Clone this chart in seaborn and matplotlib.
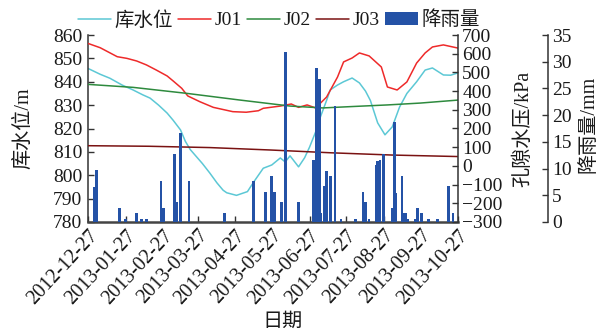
import numpy as np
import pandas as pd
import matplotlib
matplotlib.use("Agg")
import matplotlib.pyplot as plt
import seaborn as sns
from matplotlib.lines import Line2D
from matplotlib.patches import Patch

sns.set_theme(style="white")
plt.rcParams['font.family'] = ['Liberation Serif', 'Noto Sans CJK SC', 'DejaVu Sans']
plt.rcParams['axes.unicode_minus'] = True

start_date = "2012-12-27"
tick_dates = ["2012-12-27", "2013-01-27", "2013-02-27", "2013-03-27", "2013-04-27",
              "2013-05-27", "2013-06-27", "2013-07-27", "2013-08-27", "2013-09-27",
              "2013-10-27"]

# reservoir level (m), days since 2012-12-27
level_days = [0, 10, 18, 28, 37, 45, 51, 58, 65, 70, 76, 80, 84, 94, 100, 106, 111, 114,
              122, 131, 136, 144, 151, 158, 162, 166, 173, 178, 182, 187, 191, 196, 199,
              205, 210, 217, 223, 228, 232, 238, 244, 250, 256, 262, 270, 277, 283, 292,
              298, 304]
level_vals = [845.7, 843.2, 841.5, 838.6, 836.5, 834.4, 833.0, 830.0, 826.6, 823.5, 819.4,
              814.5, 811.0, 805.0, 801.0, 796.7, 793.6, 792.5, 791.4, 793.0, 797.0, 803.0,
              804.4, 807.4, 805.7, 808.3, 803.6, 807.5, 812.0, 818.5, 825.0, 832.0, 836.5,
              838.6, 840.0, 841.6, 839.5, 836.0, 832.0, 822.4, 817.3, 820.7, 829.2, 835.0,
              840.0, 845.0, 845.9, 842.9, 842.8, 843.8]

# pore pressure J01 (kPa)
j01_days = [0, 10, 24, 32, 40, 48, 56, 65, 70, 77, 82, 92, 103, 119, 130, 140, 144, 158,
            167, 173, 180, 187, 196, 205, 210, 217, 223, 231, 241, 246, 254, 262, 270,
            277, 283, 292, 304]
j01_vals = [655, 632, 584, 575, 561, 540, 513, 481, 454, 415, 374, 343, 313, 290, 287, 295,
            308, 320, 331, 313, 326, 310, 368, 475, 556, 577, 604, 588, 529, 422, 406, 449,
            550, 604, 636, 647, 630]

# pore pressure J02 (kPa)
j02_days = [0, 37, 81, 125, 166, 193, 219, 246, 273, 304]
j02_vals = [436, 420, 388, 352, 320, 310, 318, 326, 336, 352]

# pore pressure J03 (kPa)
j03_days = [0, 50, 100, 150, 200, 250, 304]
j03_vals = [108, 105, 98, 85, 70, 58, 50]

# rainfall (mm)
rain_days = [5, 7, 26, 31, 40, 44, 48, 60, 62, 71, 73, 76, 83, 112, 136, 146, 151, 153,
             159, 162, 173, 185, 186, 188, 190, 191, 194, 196, 199, 203, 208, 220, 226,
             228, 231, 237, 238, 240, 243, 250, 252, 253, 258, 260, 261, 263, 269, 271,
             274, 280, 287, 296, 300]
rain_vals = [6.6, 9.7, 2.6, 0.6, 1.6, 0.6, 0.6, 7.7, 2.6, 12.7, 3.7, 16.7, 7.7, 1.6, 7.7,
             5.6, 8.6, 5.6, 3.7, 31.8, 3.7, 11.6, 6.6, 28.8, 26.7, 1.6, 6.7, 9.6, 8.6, 21.7,
             0.6, 0.6, 5.6, 3.7, 0.6, 10.7, 11.5, 11.6, 12.7, 2.6, 18.8, 5.5, 8.6, 1.6, 1.6,
             0.5, 0.5, 2.6, 1.6, 0.5, 0.5, 6.7, 1.6]

c_level = "#5cc8d5"
c_j01 = "#ee2a2a"
c_j02 = "#2e8a3e"
c_j03 = "#7a1212"
c_rain = "#2452a6"

W, H = 603, 333
fig = plt.figure(figsize=(W / 100, H / 100), dpi=100)
ax = fig.add_axes([88 / W, 1 - 222 / H, 370 / W, 187 / H])
ax2 = ax.twinx()
ax3 = ax.twinx()

sns.lineplot(x=level_days, y=level_vals, ax=ax, color=c_level, lw=1.1)
sns.lineplot(x=j01_days, y=j01_vals, ax=ax2, color=c_j01, lw=1.1)
sns.lineplot(x=j02_days, y=j02_vals, ax=ax2, color=c_j02, lw=1.1)
sns.lineplot(x=j03_days, y=j03_vals, ax=ax2, color=c_j03, lw=1.1)

rain_df = pd.DataFrame({"day": rain_days, "rain": rain_vals})
min_gap = np.min(np.diff(np.sort(np.unique(rain_days))))
sns.barplot(data=rain_df, x="day", y="rain", ax=ax3, native_scale=True,
            width=2.2 / min_gap, color=c_rain, saturation=1, linewidth=0, errorbar=None)

t0 = pd.Timestamp(start_date)
tick_pos = [(pd.Timestamp(d) - t0).days for d in tick_dates]

for a in (ax, ax2, ax3):
    a.set_xlim(0, tick_pos[-1])
    a.grid(False)

ax.set_ylim(780, 860)
ax.set_yticks(np.arange(780, 861, 10))
ax2.set_ylim(-300, 700)
ax2.set_yticks(np.arange(-300, 701, 100))
ax3.set_ylim(0, 35)
ax3.set_yticks(np.arange(0, 36, 5))

ax.set_xticks(tick_pos)
ax.set_xticklabels(tick_dates, rotation=47, ha="right", rotation_mode="anchor")

spine_c = "#333333"
for a in (ax, ax2, ax3):
    for s in a.spines.values():
        s.set_visible(False)
ax.spines["left"].set_visible(True)
ax.spines["bottom"].set_visible(True)
ax.spines["left"].set_color(spine_c)
ax.spines["bottom"].set_color("#444444")
ax.spines["left"].set_linewidth(1.1)
ax.spines["bottom"].set_linewidth(1.8)
ax2.spines["right"].set_visible(True)
ax2.spines["right"].set_color(spine_c)
ax2.spines["right"].set_linewidth(1.1)
ax3.spines["right"].set_visible(True)
ax3.spines["right"].set_position(("axes", (548 - 88) / 370))
ax3.spines["right"].set_color(spine_c)
ax3.spines["right"].set_linewidth(1.1)

tick_fs = 14
ax.tick_params(axis="y", direction="in", length=4, width=1, color=spine_c,
               labelsize=tick_fs, pad=4, left=True, right=False)
ax.tick_params(axis="x", direction="in", length=4, width=1, color=spine_c,
               labelsize=14.5, pad=3, bottom=True)
ax2.tick_params(axis="y", direction="in", length=4, width=1, color=spine_c,
                labelsize=tick_fs, pad=3, right=True)
ax3.tick_params(axis="y", direction="in", length=4, width=1, color=spine_c,
                labelsize=tick_fs, pad=3, right=True)
for a in (ax, ax2, ax3):
    for lab in a.get_yticklabels() + a.get_xticklabels():
        lab.set_color("#1a1a1a")
ax2.tick_params(axis="x", bottom=False, labelbottom=False)
ax3.tick_params(axis="x", bottom=False, labelbottom=False)

lab_fs = 14.5
ax.set_xlabel("日期", fontsize=lab_fs, color="#1a1a1a")
ax.xaxis.set_label_coords((283 - 88) / 370, (222 - 322) / 187)
ax.xaxis.label.set_va("center")
ax.set_ylabel("库水位/m", fontsize=lab_fs, color="#1a1a1a")
ax.yaxis.set_label_coords((24 - 88) / 370, 0.5)
ax.yaxis.label.set_va("center")
ax2.set_ylabel("孔隙水压/kPa", fontsize=lab_fs, color="#1a1a1a")
ax2.yaxis.set_label_coords((524 - 88) / 370, 0.5)
ax2.yaxis.label.set_va("center")
ax3.set_ylabel("降雨量/mm", fontsize=lab_fs, color="#1a1a1a")
ax3.yaxis.set_label_coords((589 - 88) / 370, 0.52)
ax3.yaxis.label.set_va("center")
ax3.yaxis.label.set_rotation(90)

handles = [Line2D([], [], color=c_level, lw=1.1),
           Line2D([], [], color=c_j01, lw=1.1),
           Line2D([], [], color=c_j02, lw=1.1),
           Line2D([], [], color=c_j03, lw=1.1),
           Patch(facecolor=c_rain, edgecolor="none")]
labels = ["库水位", "J01", "J02", "J03", "降雨量"]
ax3.legend(handles, labels, loc="center", bbox_to_anchor=((279 - 88) / 370, 1 + 15 / 187),
           ncol=5, frameon=False, fontsize=14, handlelength=1.7, handletextpad=0.2,
           columnspacing=0.25, borderpad=0, borderaxespad=0, labelcolor="#1a1a1a")

fig.savefig("out.png", dpi=100)
